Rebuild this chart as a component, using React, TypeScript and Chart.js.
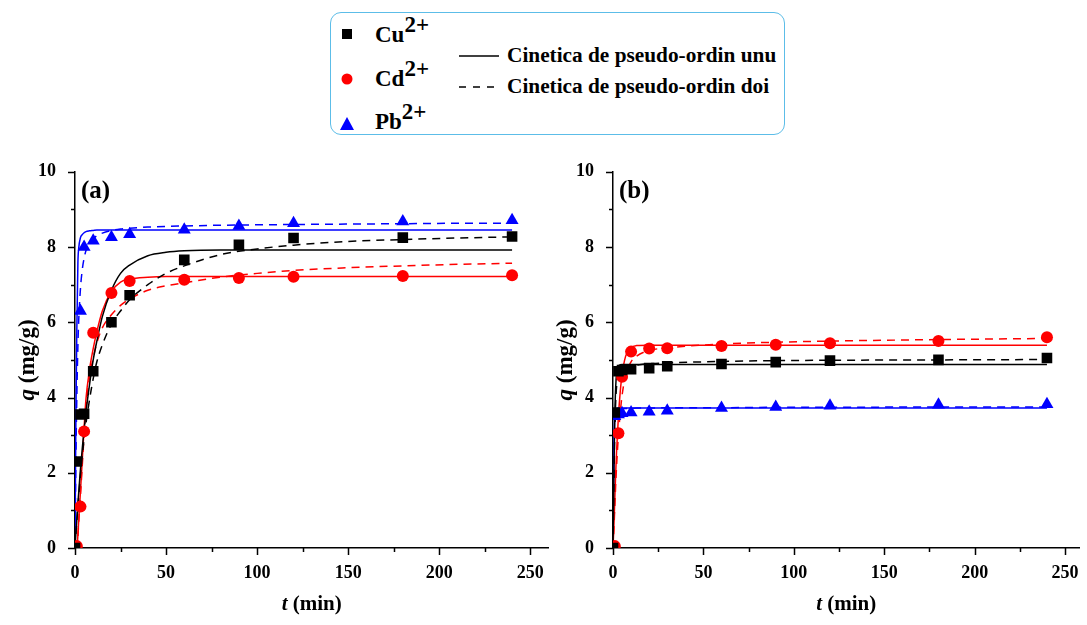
import React, { useEffect, useRef } from "react";
import { Chart, registerables } from "chart.js";
Chart.register(...registerables);

// ---- measured points (time, min) ----
const timesExp = [0, 1, 3, 5, 10, 20, 30, 60, 90, 120, 180, 240];
// panel (a)
const cuA = [0, 2.3, 3.55, 3.57, 4.7, 6.0, 6.72, 7.66, 8.06, 8.24, 8.25, 8.28];
const cdA = [0, 0.05, 1.1, 3.1, 5.72, 6.78, 7.1, 7.13, 7.18, 7.21, 7.23, 7.25];
const pbA = [0, null, 6.3, 8.0, 8.17, 8.26, 8.34, 8.46, 8.56, 8.63, 8.68, 8.71];
// panel (b)
const cuB = [0, 3.6, 4.7, 4.73, 4.75, 4.78, 4.83, 4.89, 4.94, 4.98, 5.0, 5.05];
const cdB = [0, 0.05, 3.05, 4.55, 5.22, 5.3, 5.31, 5.37, 5.4, 5.44, 5.5, 5.6];
const pbB = [0, 3.5, 3.55, 3.58, 3.6, 3.62, 3.65, 3.72, 3.75, 3.78, 3.81, 3.82];

// ---- fitted curves ----
const fitTimesA = [0, 0.5, 1, 1.6, 2, 3, 4, 5, 6, 8, 10, 12, 15, 20, 25, 30, 40, 50, 60, 80, 100, 120, 150, 180, 210, 240];
const cuPfoA = [0, 0.4, 0.75, 1.2, 1.45, 2.1, 2.65, 3.15, 3.6, 4.35, 5.0, 5.5, 6.15, 6.85, 7.3, 7.52, 7.77, 7.86, 7.9, 7.92, 7.92, 7.92, 7.92, 7.92, 7.92, 7.92];
const cuPsoA = [0, 0.35, 0.7, 1.1, 1.35, 1.95, 2.45, 2.9, 3.3, 3.95, 4.5, 4.95, 5.4, 5.95, 6.3, 6.6, 7.0, 7.3, 7.5, 7.8, 7.95, 8.05, 8.15, 8.2, 8.24, 8.27];
const cdPfoA = [0, 0, 0, 0.35, 0.7, 1.5, 2.35, 3.2, 3.95, 4.75, 5.3, 5.75, 6.3, 6.82, 7.07, 7.15, 7.2, 7.22, 7.22, 7.22, 7.22, 7.22, 7.22, 7.22, 7.22, 7.22];
const cdPsoA = [0, 0, 0, 0.3, 0.65, 1.4, 2.2, 3.0, 3.7, 4.55, 5.05, 5.45, 5.85, 6.2, 6.45, 6.62, 6.85, 6.97, 7.05, 7.2, 7.3, 7.38, 7.45, 7.5, 7.54, 7.57];
const pbPfoA = [0, 3.5, 5.8, 7.6, 7.95, 8.25, 8.33, 8.38, 8.41, 8.43, 8.44, 8.45, 8.45, 8.45, 8.45, 8.45, 8.45, 8.45, 8.45, 8.45, 8.45, 8.45, 8.45, 8.45, 8.45, 8.45];
const pbPsoA = [0, 2.4, 4.0, 5.4, 6.0, 6.9, 7.4, 7.7, 7.9, 8.1, 8.22, 8.3, 8.37, 8.44, 8.48, 8.5, 8.53, 8.55, 8.56, 8.58, 8.59, 8.6, 8.61, 8.62, 8.63, 8.63];

const fitTimesB = [0, 0.5, 1, 1.5, 2, 3, 4, 5, 7, 10, 13, 20, 30, 60, 90, 120, 180, 240];
const cuPfoB = [0, 2.0, 3.5, 4.3, 4.65, 4.84, 4.87, 4.88, 4.88, 4.88, 4.88, 4.88, 4.88, 4.88, 4.88, 4.88, 4.88, 4.88];
const cuPsoB = [0, 1.7, 3.1, 3.9, 4.3, 4.6, 4.7, 4.75, 4.8, 4.84, 4.86, 4.9, 4.92, 4.96, 4.98, 4.99, 5.0, 5.01];
const cdPfoB = [0, 0.6, 1.3, 2.0, 2.6, 3.5, 4.15, 4.6, 5.1, 5.33, 5.38, 5.39, 5.39, 5.39, 5.39, 5.39, 5.39, 5.39];
const cdPsoB = [0, 0.5, 1.1, 1.7, 2.2, 3.0, 3.6, 4.05, 4.6, 4.95, 5.1, 5.25, 5.32, 5.42, 5.47, 5.5, 5.54, 5.57];
const pbPfoB = [0, 2.5, 3.5, 3.65, 3.7, 3.72, 3.72, 3.72, 3.72, 3.72, 3.72, 3.72, 3.72, 3.72, 3.72, 3.72, 3.72, 3.72];
const pbPsoB = [0, 2.3, 3.35, 3.55, 3.62, 3.67, 3.69, 3.7, 3.71, 3.71, 3.72, 3.72, 3.73, 3.73, 3.74, 3.74, 3.75, 3.75];

const xTicks = [0, 25, 50, 75, 100, 125, 150, 175, 200, 225, 250];
const yTicks = [0, 1, 2, 3, 4, 5, 6, 7, 8, 9, 10];

const FONT = "'Liberation Serif', 'Times New Roman', serif";
const BLACK = "#000000";
const RED = "#ff0000";
const BLUE = "#0000ff";

const pts = (xs: number[], ys: (number | null)[]) =>
  xs.map((x, i) => ({ x, y: ys[i] })).filter((p) => p.y !== null);

function markerSet(label: string, ys: (number | null)[], color: string, style: string, r: number) {
  return {
    label,
    data: pts(timesExp, ys),
    showLine: false,
    pointStyle: style,
    pointRadius: r,
    pointBorderWidth: 0,
    backgroundColor: color,
    borderColor: color,
  };
}
function lineSet(label: string, xs: number[], ys: number[], color: string, dashed: boolean) {
  return {
    label,
    data: pts(xs, ys),
    showLine: true,
    pointRadius: 0,
    borderWidth: 1.5,
    borderColor: color,
    backgroundColor: color,
    borderDash: dashed ? [8, 6] : [],
    cubicInterpolationMode: "monotone",
    fill: false,
  };
}

function drawRich(ctx: CanvasRenderingContext2D, segs: { t: string; i?: boolean }[], size: number) {
  const fonts = segs.map((s) => `${s.i ? "italic " : ""}bold ${size}px ${FONT}`);
  let total = 0;
  const widths = segs.map((s, k) => {
    ctx.font = fonts[k];
    const w = ctx.measureText(s.t).width;
    total += w;
    return w;
  });
  let x = -total / 2;
  segs.forEach((s, k) => {
    ctx.font = fonts[k];
    ctx.fillText(s.t, x, 0);
    x += widths[k];
  });
}

const decorPlugin = {
  id: "decor",
  afterDraw(chart: any, _args: any, opts: any) {
    const ctx = chart.ctx as CanvasRenderingContext2D;
    const area = chart.chartArea;
    const xs = chart.scales.x;
    const ys = chart.scales.y;
    ctx.save();
    ctx.strokeStyle = BLACK;
    ctx.lineWidth = 1.5;
    ctx.beginPath();
    xTicks.forEach((v) => {
      const px = Math.round(xs.getPixelForValue(v)) + 0.5;
      const len = v % 50 === 0 ? 7 : 4;
      ctx.moveTo(px, area.bottom);
      ctx.lineTo(px, area.bottom + len);
    });
    yTicks.forEach((v) => {
      const py = Math.round(ys.getPixelForValue(v)) + 0.5;
      const len = v % 2 === 0 ? 7 : 4;
      ctx.moveTo(area.left, py);
      ctx.lineTo(area.left - len, py);
    });
    ctx.stroke();

    ctx.fillStyle = BLACK;
    ctx.textBaseline = "middle";
    // panel label
    ctx.textAlign = "left";
    ctx.font = `bold 25px ${FONT}`;
    ctx.fillText(opts.panel, area.left + 6, area.top + 20);

    // x title
    ctx.save();
    ctx.translate((area.left + area.right) / 2, area.bottom + 57);
    drawRich(ctx, [{ t: "t", i: true }, { t: " (min)" }], 21);
    ctx.restore();

    // y title
    ctx.save();
    ctx.translate(area.left - 47, (area.top + area.bottom) / 2);
    ctx.rotate(-Math.PI / 2);
    drawRich(ctx, [{ t: "q", i: true }, { t: " (mg/g)" }], 23);
    ctx.restore();
    ctx.restore();
  },
};

function makeConfig(panel: string, datasets: any[], yWidth: number, padRight: number, xMax: number) {
  return {
    type: "scatter",
    data: { datasets },
    plugins: [decorPlugin],
    options: {
      responsive: false,
      animation: false,
      devicePixelRatio: 1,
      layout: { padding: { top: 15, right: padRight, bottom: 0, left: 0 } },
      plugins: {
        legend: { display: false },
        tooltip: { enabled: false },
        decor: { panel },
      },
      scales: {
        x: {
          type: "linear",
          min: 0,
          max: xMax,
          grid: { display: false },
          border: { display: true, color: BLACK, width: 1.5 },
          ticks: {
            stepSize: 25,
            includeBounds: false,
            autoSkip: false,
            maxRotation: 0,
            padding: 7,
            color: BLACK,
            font: { family: FONT, size: 18, weight: "bold" },
            callback: (v: number) => (v % 50 === 0 ? String(v) : ""),
          },
          afterFit: (s: any) => {
            s.height = 77;
          },
        },
        y: {
          type: "linear",
          min: 0,
          max: 10,
          grid: { display: false },
          border: { display: true, color: BLACK, width: 1.5 },
          ticks: {
            stepSize: 1,
            autoSkip: false,
            padding: 11,
            color: BLACK,
            font: { family: FONT, size: 18, weight: "bold" },
            callback: (v: number) => (v % 2 === 0 ? String(v) : ""),
          },
          afterFit: (s: any) => {
            s.width = yWidth;
          },
        },
      },
    },
  };
}

function Panel(props: { left: number; width: number; config: any }) {
  const ref = useRef<HTMLCanvasElement>(null);
  useEffect(() => {
    if (!ref.current) return;
    const chart = new Chart(ref.current, props.config);
    return () => chart.destroy();
  }, []);
  return (
    <canvas
      ref={ref}
      width={props.width}
      height={475}
      style={{ position: "absolute", left: props.left, top: 150, width: props.width, height: 475, display: "block" }}
    />
  );
}

const legendText: React.CSSProperties = {
  position: "absolute",
  fontFamily: FONT,
  fontWeight: "bold",
  fontSize: 21.3,
  color: BLACK,
  whiteSpace: "nowrap",
  lineHeight: "24px",
};

function Ion(props: { name: string; top: number }) {
  return (
    <div style={{ ...legendText, fontSize: 23, left: 44, top: props.top }}>
      {props.name}
      <span style={{ position: "relative", top: -10, fontSize: 23 }}>2+</span>
    </div>
  );
}

export default function App() {
  const dsA = [
    markerSet("Cu2+", cuA, BLACK, "rect", 7.5),
    markerSet("Cd2+", cdA, RED, "circle", 6),
    markerSet("Pb2+", pbA, BLUE, "triangle", 7.5),
    lineSet("Cu PFO", fitTimesA, cuPfoA, BLACK, false),
    lineSet("Cu PSO", fitTimesA, cuPsoA, BLACK, true),
    lineSet("Cd PFO", fitTimesA, cdPfoA, RED, false),
    lineSet("Cd PSO", fitTimesA, cdPsoA, RED, true),
    lineSet("Pb PFO", fitTimesA, pbPfoA, BLUE, false),
    lineSet("Pb PSO", fitTimesA, pbPsoA, BLUE, true),
  ];
  const dsB = [
    markerSet("Cu2+", cuB, BLACK, "rect", 7.5),
    markerSet("Cd2+", cdB, RED, "circle", 6),
    markerSet("Pb2+", pbB, BLUE, "triangle", 7.5),
    lineSet("Cu PFO", fitTimesB, cuPfoB, BLACK, false),
    lineSet("Cu PSO", fitTimesB, cuPsoB, BLACK, true),
    lineSet("Cd PFO", fitTimesB, cdPfoB, RED, false),
    lineSet("Cd PSO", fitTimesB, cdPsoB, RED, true),
    lineSet("Pb PFO", fitTimesB, pbPfoB, BLUE, false),
    lineSet("Pb PSO", fitTimesB, pbPsoB, BLUE, true),
  ];
  const cfgA = makeConfig("(a)", dsA, 75, 7, 260);
  const cfgB = makeConfig("(b)", dsB, 73, 6, 258);

  return (
    <div style={{ position: "absolute", left: 0, top: 0, width: 1087, height: 625, background: "#fff", overflow: "hidden" }}>
      <div
        style={{
          position: "absolute",
          left: 330,
          top: 12,
          width: 455,
          height: 123,
          border: "1.5px solid #5cbde8",
          borderRadius: 11,
          boxSizing: "border-box",
        }}
      >
        <svg width={455} height={123} style={{ position: "absolute", left: 0, top: 0 }}>
          <rect x={11} y={16} width={10} height={10} fill={BLACK} />
          <circle cx={16} cy={66} r={5.5} fill={RED} />
          <polygon points="9,117 23,117 16,104" fill={BLUE} />
          <line x1={128} y1={43} x2={168} y2={43} stroke={BLACK} strokeWidth={1.5} />
          <line x1={128} y1={74} x2={170} y2={74} stroke={BLACK} strokeWidth={1.5} strokeDasharray="7,7" />
        </svg>
        <Ion name="Cu" top={10} />
        <Ion name="Cd" top={54} />
        <Ion name="Pb" top={97} />
        <div style={{ ...legendText, left: 176, top: 30 }}>Cinetica de pseudo-ordin unu</div>
        <div style={{ ...legendText, left: 176, top: 61 }}>Cinetica de pseudo-ordin doi</div>
      </div>
      <Panel left={0} width={556} config={cfgA} />
      <Panel left={540} width={547} config={cfgB} />
    </div>
  );
}
